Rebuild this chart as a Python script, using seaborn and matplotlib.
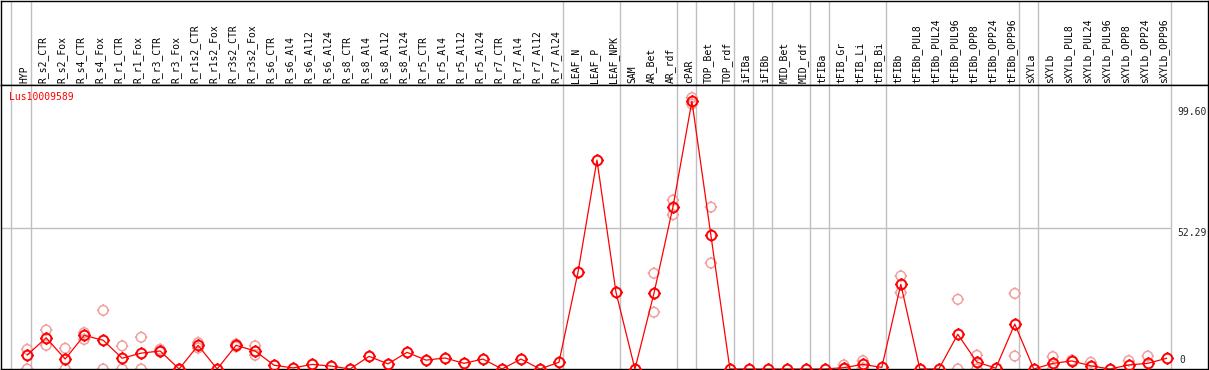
import numpy as np
import pandas as pd

import seaborn as sns
import matplotlib.pyplot as plt
from matplotlib.path import Path
import matplotlib.transforms as mtransforms

sns.set_style("white")
plt.rcParams["font.family"] = ["DejaVu Sans Mono", "DejaVu Sans"]

W, H, DPI = 1209, 370, 100
GRID = "#c0c0c0"
LINE_RED = "#ff0000"
REP_PINK = "#f0a0a0"

samples = [
    "HYP", "R_s2_CTR", "R_s2_Fox", "R_s4_CTR", "R_s4_Fox", "R_r1_CTR", "R_r1_Fox",
    "R_r3_CTR", "R_r3_Fox", "R_r1s2_CTR", "R_r1s2_Fox", "R_r3s2_CTR", "R_r3s2_Fox",
    "R_s6_CTR", "R_s6_Al4", "R_s6_Al12", "R_s6_Al24", "R_s8_CTR", "R_s8_Al4",
    "R_s8_Al12", "R_s8_Al24", "R_r5_CTR", "R_r5_Al4", "R_r5_Al12", "R_r5_Al24",
    "R_r7_CTR", "R_r7_Al4", "R_r7_Al12", "R_r7_Al24", "LEAF_N", "LEAF_P", "LEAF_NPK",
    "SAM", "AR_Bet", "AR_rdf", "cPAR", "TOP_Bet", "TOP_rdf", "iFIBa", "iFIBb",
    "MID_Bet", "MID_rdf", "tFIBa", "tFIB_Gr", "tFIB_Li", "tFIB_Bi", "tFIBb",
    "tFIBb_PUL8", "tFIBb_PUL24", "tFIBb_PUL96", "tFIBb_OPP8", "tFIBb_OPP24",
    "tFIBb_OPP96", "sXYLa", "sXYLb", "sXYLb_PUL8", "sXYLb_PUL24", "sXYLb_PUL96",
    "sXYLb_OPP8", "sXYLb_OPP24", "sXYLb_OPP96",
]

mean_expr = [
    5.2, 11.6, 3.7, 12.5, 10.7, 4.0, 5.9, 6.7, 0.0, 8.8, 0.0, 8.8, 6.7,
    1.4, 0.4, 1.7, 1.1, 0.0, 4.7, 1.9, 6.2, 3.3, 4.1, 2.1, 3.7,
    0.0, 3.7, 0.0, 2.5, 35.9, 77.7, 28.6, 0.0, 28.1, 60.2, 99.6, 49.7,
    0.0, 0.0, 0.0, 0.0, 0.0, 0.0, 0.5, 1.7, 0.6, 31.5, 0.0, 0.0, 12.9,
    2.6, 0.3, 16.7, 0.0, 2.1, 3.0, 1.2, 0.0, 1.5, 2.1, 4.0,
]

replicates = [
    [7.3, 0.0], [14.5, 8.8], [7.7, 0.0], [13.5, 11.0], [21.8, 0.0], [8.6, 0.0],
    [11.8, 0.0], [7.3, 6.3], [0.0], [9.8, 7.8], [], [9.3, 8.3], [8.6, 5.1],
    [], [], [], [], [], [], [], [], [], [], [], [],
    [], [], [], [], [], [], [], [], [35.6, 21.1], [62.8, 57.4], [100.9, 98.5],
    [60.2, 39.4], [], [], [], [], [], [], [1.5, 0.0], [3.1, 0.3], [],
    [34.6, 28.4], [], [], [25.9, 0.0], [5.1, 0.0], [], [28.1, 4.8], [],
    [4.6, 0.0], [3.3], [2.5], [], [3.1], [4.8], [],
]

# tissue groups end after these sample indices
group_ends = [0, 28, 31, 34, 35, 37, 38, 39, 41, 42, 45, 52, 53, 60]

y_ticks = [0, 52.29, 99.60]
gene_id = "Lus10009589"

idx = np.arange(len(samples))
means = pd.DataFrame({"i": idx, "expr": mean_expr})
reps = pd.DataFrame(
    [(i, v) for i, vals in enumerate(replicates) for v in vals], columns=["i", "expr"]
)

# circle marker with four little ticks
circ = Path.unit_circle()
tick_pts = [(0, 1), (0, 1.3), (0, -1), (0, -1.3), (1, 0), (1.3, 0), (-1, 0), (-1.3, 0)]
ticks = Path(tick_pts, [Path.MOVETO, Path.LINETO] * 4)
ring = Path.make_compound_path(circ, ticks)

fig = plt.figure(figsize=(W / DPI, H / DPI), dpi=DPI)
x0 = -26.7 / 19
x1 = (1208 - 26.7) / 19
head = fig.add_axes([0.5 / W, (H - 85) / H, 1207.5 / W, 84.5 / H])
ax = fig.add_axes([0.5 / W, 1.0 / H, 1207.5 / W, 284 / H])

for a in (head, ax):
    a.set_xlim(x0, x1)
    a.set_xticks([])
    a.set_yticks([])
    for s in a.spines.values():
        s.set_color("black")
        s.set_linewidth(1.0)
    for e in [-1.04] + group_ends:
        a.axvline(e + 0.2, color=GRID, lw=1.0, zorder=0)

head.set_ylim(0, 84.5)
for i, name in enumerate(samples):
    head.text(i - 0.15, 2.0, name, rotation=90, ha="center", va="bottom",
              fontsize=7.0, color="black")

ax.set_ylim(0, 105.6)
ax.hlines(52.29, x0, group_ends[-1] + 0.2, color=GRID, lw=1.0, zorder=0)

sns.scatterplot(data=reps, x="i", y="expr", ax=ax, marker=ring, s=80,
                facecolor="none", edgecolor=REP_PINK, linewidth=1.1, zorder=2)
sns.lineplot(data=means, x="i", y="expr", ax=ax, color=LINE_RED, lw=0.9,
             marker=ring, markersize=9, markerfacecolor="none",
             markeredgecolor=LINE_RED, markeredgewidth=1.4, zorder=3)
ax.set_xlabel("")
ax.set_ylabel("")
ax.set_xlim(x0, x1)
ax.set_ylim(0, 105.6)

trans = mtransforms.blended_transform_factory(ax.transAxes, ax.transData)
lab_x = (1177 - 0.5) / 1207.5
ax.annotate(f"{y_ticks[2]:.2f}", (lab_x, y_ticks[2]), xycoords=trans,
            xytext=(0, -6), textcoords="offset pixels", ha="left", va="top",
            fontsize=7.0)
ax.annotate(f"{y_ticks[1]:.2f}", (lab_x, y_ticks[1]), xycoords=trans,
            xytext=(0, 0), textcoords="offset pixels", ha="left", va="top",
            fontsize=7.0)
ax.annotate(f"{y_ticks[0]}", (lab_x + 0.002, y_ticks[0]), xycoords=trans,
            xytext=(0, 4), textcoords="offset pixels", ha="left", va="bottom",
            fontsize=7.0)

ax.text(9 / 1207.5, 1 - 12.5 / 284, gene_id, transform=ax.transAxes, color=LINE_RED,
        ha="left", va="center", fontsize=7.0)

fig.savefig("out.png", dpi=DPI)
